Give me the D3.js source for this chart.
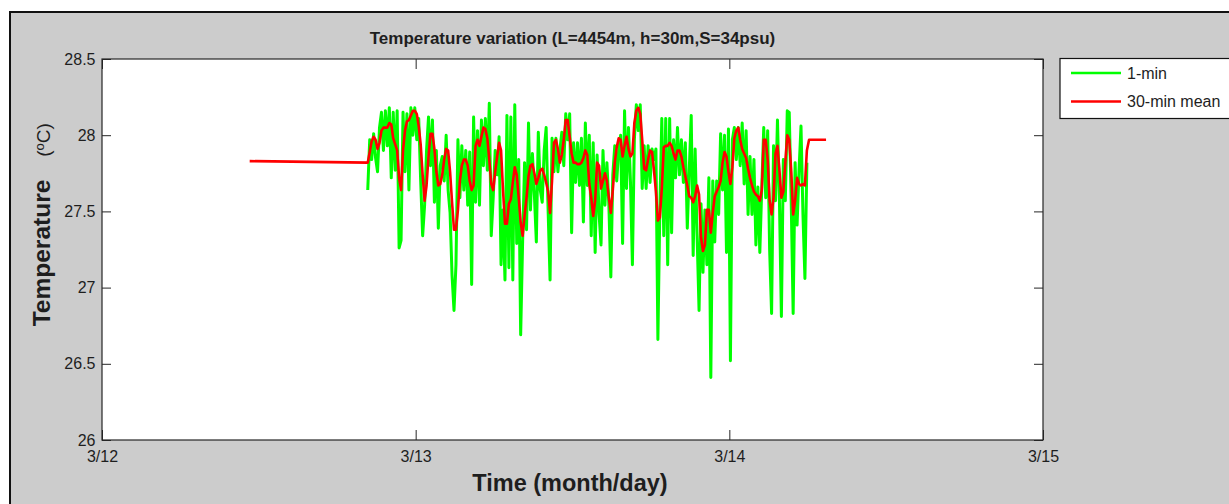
<!DOCTYPE html>
<html><head><meta charset="utf-8">
<script src="https://cdn.jsdelivr.net/npm/d3@7"></script>
<style>
html,body{margin:0;padding:0;background:#fff;}
svg text{font-family:"Liberation Sans",Arial,sans-serif;fill:#1e1e1e;}
</style></head>
<body>
<svg id="chart" width="1229" height="504"></svg>
<script>
// ---- data ----
const title = "Temperature variation (L=4454m, h=30m,S=34psu)";
const xTickHours = [0, 24, 48, 72];
const xTickLabels = ["3/12", "3/13", "3/14", "3/15"];
const yTicks = [26, 26.5, 27, 27.5, 28, 28.5];
const yTickLabels = ["26", "26.5", "27", "27.5", "28", "28.5"];
const seriesNames = ["1-min", "30-min mean"];
// sampled record: start 3/12 20:20, one value every 9 minutes (hours since 3/12 00:00)
const startHour = 20 + 20 / 60;
const stepHour = 9 / 60;
const minuteTemp = [
27.64,27.97,27.84,28.01,27.85,27.76,28.05,28.15,27.90,28.16,
27.93,28.18,27.72,28.15,27.77,28.16,27.26,27.31,28.15,27.76,
28.14,27.64,28.18,28.00,28.18,27.97,28.11,27.70,27.34,27.54,
27.90,28.12,27.80,28.10,27.56,27.90,27.39,27.80,27.86,27.70,
28.00,27.64,27.49,27.08,26.85,27.15,27.97,27.59,27.93,27.64,
27.90,27.54,27.89,27.02,28.12,27.56,28.03,27.54,28.10,27.80,
28.11,27.77,28.21,27.34,27.59,27.90,27.74,27.99,27.15,27.51,
27.05,28.13,27.13,28.12,27.05,28.20,27.29,27.84,26.69,27.30,
27.82,27.38,28.08,27.51,27.88,27.61,27.30,28.02,27.64,27.56,
27.90,28.05,27.51,27.05,27.98,27.76,27.98,27.76,27.90,28.02,
27.80,28.14,27.97,28.14,27.36,27.95,27.69,27.95,27.67,27.98,
27.43,28.08,27.67,28.00,27.34,27.95,27.23,27.87,27.48,27.28,
27.90,27.54,27.82,27.54,27.07,27.74,27.93,27.70,27.90,28.00,
27.29,28.16,27.65,28.05,27.70,27.15,27.97,28.20,28.03,28.20,
27.65,27.93,27.65,27.93,27.69,27.91,27.84,27.91,26.66,27.51,
28.11,27.34,28.11,27.15,28.11,27.36,27.97,27.72,28.05,27.74,
27.97,27.69,27.95,27.39,27.77,28.13,27.21,27.91,27.34,26.85,
27.55,27.10,27.51,27.15,27.72,26.41,27.70,27.30,27.70,27.48,
28.01,27.64,28.00,27.23,28.04,26.52,27.97,28.05,27.84,28.05,
27.80,28.08,27.68,28.03,27.48,27.86,27.48,27.84,27.28,27.66,
27.23,27.66,28.05,27.59,28.03,27.25,26.83,27.93,27.57,28.10,
27.57,26.81,27.84,27.57,28.16,28.15,27.57,26.83,27.82,27.41,
27.77,28.06,27.48,27.06,27.82];
const meanTemp = [
27.82,27.89,27.96,27.99,27.97,27.91,27.95,28.03,28.05,28.05,
28.05,28.08,28.07,27.98,27.94,27.90,27.72,27.64,27.90,28.03,
28.09,28.10,28.13,28.16,28.16,28.14,28.06,27.94,27.74,27.57,
27.67,27.86,28.01,28.01,27.91,27.76,27.67,27.68,27.74,27.84,
27.91,27.90,27.76,27.56,27.38,27.38,27.51,27.70,27.80,27.84,
27.84,27.80,27.70,27.64,27.67,27.93,27.97,27.93,27.99,28.05,
28.04,27.98,27.84,27.68,27.64,27.76,27.86,27.95,27.90,27.64,
27.42,27.42,27.55,27.58,27.69,27.79,27.74,27.59,27.43,27.34,
27.47,27.59,27.73,27.80,27.81,27.75,27.68,27.72,27.77,27.78,
27.74,27.69,27.63,27.49,27.70,27.95,27.97,27.91,27.82,27.87,
27.97,28.10,28.10,27.99,27.88,27.82,27.82,27.81,27.81,27.82,
27.85,27.90,27.87,27.68,27.59,27.47,27.57,27.82,27.80,27.65,
27.70,27.75,27.70,27.59,27.49,27.64,27.82,27.92,27.98,27.97,
27.86,27.93,27.99,27.91,27.86,27.88,28.08,28.16,28.18,28.14,
27.97,27.78,27.77,27.84,27.90,27.89,27.77,27.63,27.44,27.46,
27.65,27.92,27.93,27.93,27.95,27.93,27.88,27.84,27.90,27.90,
27.86,27.79,27.73,27.67,27.60,27.59,27.56,27.60,27.67,27.61,
27.33,27.24,27.28,27.51,27.51,27.36,27.49,27.60,27.63,27.66,
27.70,27.82,27.89,27.86,27.76,27.68,27.79,27.98,28.03,28.05,
27.97,27.91,27.88,27.85,27.78,27.72,27.67,27.63,27.61,27.60,
27.57,27.64,27.97,27.97,27.84,27.57,27.48,27.59,27.88,27.93,
27.77,27.59,27.63,27.82,28.00,27.97,27.77,27.48,27.57,27.72,
27.68,27.67,27.68,27.67,27.90];
// flat parts of the 30-min mean before and after the sampled record: [hour, temp]
const meanLead = [[11.3, 27.83]];
const meanTail = [[54.1, 27.97], [55.4, 27.97]];

// ---- layout ----
const svg = d3.select("#chart");
const L = 102, T = 59, R = 1043, B = 440;
const colors = ["#00ff00", "#ff0000"];

// figure background + frame
svg.append("rect").attr("x", 10).attr("y", 12).attr("width", 1240).attr("height", 520)
  .attr("fill", "#cccccc").attr("stroke", "#111").attr("stroke-width", 2);

const x = d3.scaleLinear().domain([0, 72]).range([L, R]);
const y = d3.scaleLinear().domain([26, 28.5]).range([B, T]);

svg.append("rect").attr("x", L).attr("y", T).attr("width", R - L).attr("height", B - T).attr("fill", "#fff");

svg.append("clipPath").attr("id", "clip").append("rect")
  .attr("x", L).attr("y", T).attr("width", R - L).attr("height", B - T);

const minuteData = minuteTemp.map((v, i) => [startHour + i * stepHour, v]);
const meanData = meanLead.concat(meanTemp.map((v, i) => [startHour + i * stepHour, v]), meanTail);

const line = d3.line().x(d => x(d[0])).y(d => y(d[1]));
const g = svg.append("g").attr("clip-path", "url(#clip)");
g.append("path").datum(minuteData).attr("d", line).attr("fill", "none")
  .attr("stroke", colors[0]).attr("stroke-width", 3).attr("stroke-linejoin", "round");
g.append("path").datum(meanData).attr("d", line).attr("fill", "none")
  .attr("stroke", colors[1]).attr("stroke-width", 2.6).attr("stroke-linejoin", "round");

// axes
function styleAxis(sel) {
  sel.select(".domain").remove();
  sel.selectAll(".tick line").attr("stroke", "#262626");
  sel.selectAll(".tick text").attr("font-size", 16).attr("fill", "#1e1e1e")
    .attr("font-family", '"Liberation Sans",Arial,sans-serif');
}
svg.append("g").attr("transform", `translate(0,${B})`)
  .call(d3.axisBottom(x).tickValues(xTickHours).tickSize(-10).tickSizeOuter(0).tickPadding(10.5)
    .tickFormat((d, i) => xTickLabels[i])).call(styleAxis);
svg.append("g").attr("transform", `translate(0,${T})`)
  .call(d3.axisTop(x).tickValues(xTickHours).tickSize(-10).tickSizeOuter(0).tickFormat(""))
  .call(styleAxis);
svg.append("g").attr("transform", `translate(${L},0)`)
  .call(d3.axisLeft(y).tickValues(yTicks).tickSize(-9).tickSizeOuter(0).tickPadding(6.5)
    .tickFormat((d, i) => yTickLabels[i])).call(styleAxis);
svg.append("g").attr("transform", `translate(${R},0)`)
  .call(d3.axisRight(y).tickValues(yTicks).tickSize(-9).tickSizeOuter(0).tickFormat(""))
  .call(styleAxis);

// plot box
svg.append("rect").attr("x", L).attr("y", T).attr("width", R - L).attr("height", B - T)
  .attr("fill", "none").attr("stroke", "#262626").attr("stroke-width", 1.2);

// title & labels
svg.append("text").attr("x", (L + R) / 2).attr("y", 43.5).attr("text-anchor", "middle")
  .attr("font-size", 17).attr("font-weight", "bold").text(title);
svg.append("text").attr("x", 570).attr("y", 491).attr("text-anchor", "middle")
  .attr("font-size", 23.5).attr("font-weight", "bold").text("Time (month/day)");
svg.append("text").attr("transform", "translate(50,253) rotate(-90)").attr("text-anchor", "middle")
  .attr("font-size", 24.5).attr("font-weight", "bold").text("Temperature");
const unit = svg.append("text").attr("transform", "translate(50,140) rotate(-90)").attr("text-anchor", "middle")
  .attr("font-size", 19);
unit.append("tspan").text("(");
unit.append("tspan").attr("font-size", 13).attr("dy", -6).text("o");
unit.append("tspan").attr("dy", 6).text("C)");

// legend
const lg = svg.append("g");
lg.append("rect").attr("x", 1060).attr("y", 58.5).attr("width", 200).attr("height", 60)
  .attr("fill", "#fff").attr("stroke", "#111").attr("stroke-width", 1.2);
const legY = [73, 101.5];
seriesNames.forEach((name, i) => {
  lg.append("line").attr("x1", 1071).attr("x2", 1121).attr("y1", legY[i]).attr("y2", legY[i])
    .attr("stroke", colors[i]).attr("stroke-width", 2.4);
  lg.append("text").attr("x", 1127).attr("y", legY[i] + 5.8).attr("font-size", 16).text(name);
});
</script>
</body></html>
